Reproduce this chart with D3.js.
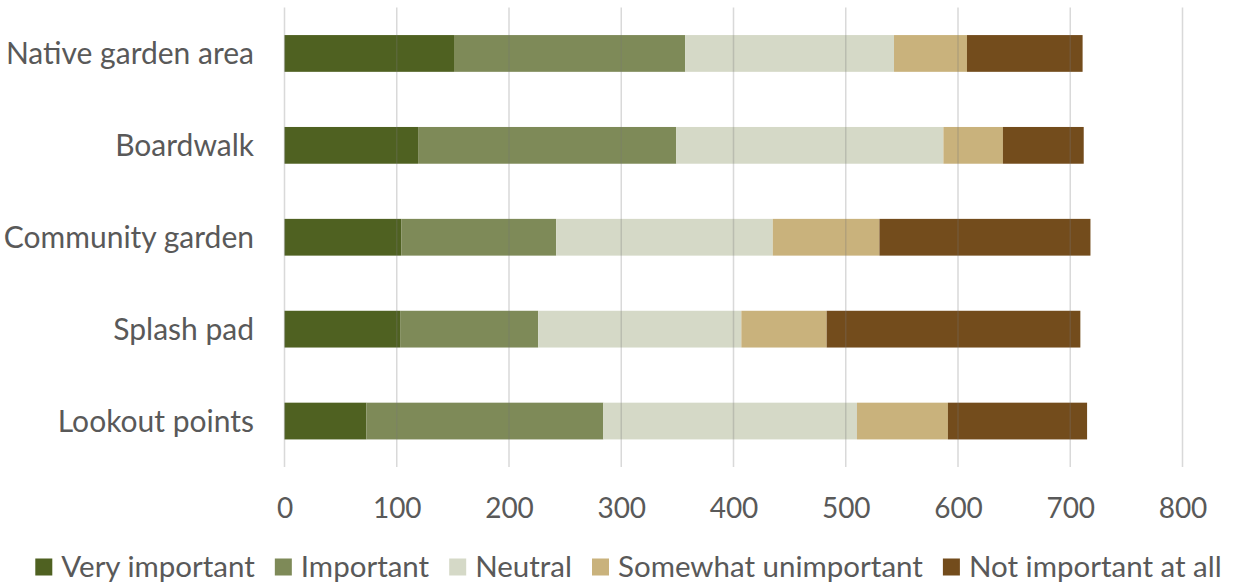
<!DOCTYPE html>
<html><head><meta charset="utf-8">
<script src="https://cdn.jsdelivr.net/npm/d3@7"></script>
<style>body{margin:0;background:#fff}svg{display:block}</style>
</head><body>
<svg id="c" width="1237" height="586"></svg>
<script>
const categories = ["Native garden area","Boardwalk","Community garden","Splash pad","Lookout points"];
const seriesNames = ["Very important","Important","Neutral","Somewhat unimportant","Not important at all"];
const veryImportant = [151,119,104,103,73];
const important = [206,230,138,123,211];
const neutral = [186,238,193,181,226];
const somewhatUnimportant = [65,53,95,76,81];
const notImportant = [103,72,188,226,124];
const tickValues = [0,100,200,300,400,500,600,700,800];
const colors = ["#4F6121","#7E8A58","#D5D9C7","#C9B27C","#734C1C"];

const series = [veryImportant, important, neutral, somewhatUnimportant, notImportant];
const rows = categories.map((c,i)=>{const o={cat:c}; seriesNames.forEach((s,j)=>o[s]=series[j][i]); return o;});
const stacked = d3.stack().keys(seriesNames)(rows);

const svg = d3.select("#c");
const font = "Lato, 'Open Sans', sans-serif";
const textColor = "#595959";
const x = d3.scaleLinear().domain([0,800]).range([284.5,1182.5]);
const y = d3.scaleBand().domain(categories).range([7.5,467]).paddingInner(0.6).paddingOuter(0.3);

// bars
svg.append("g").selectAll("g").data(stacked).join("g")
  .attr("fill",(d,i)=>colors[i])
  .selectAll("rect").data(d=>d).join("rect")
  .attr("x",d=>x(d[0])).attr("width",d=>x(d[1])-x(d[0]))
  .attr("y",d=>y(d.data.cat)).attr("height",y.bandwidth());

// gridlines on top (semi-transparent)
svg.append("g").selectAll("line").data(tickValues).join("line")
  .attr("x1",d=>x(d)).attr("x2",d=>x(d)).attr("y1",7.5).attr("y2",467)
  .attr("stroke","rgb(120,120,120)").attr("stroke-opacity",0.28).attr("stroke-width",1.5);

// x axis labels
const xAxis = d3.axisBottom(x).tickValues(tickValues).tickSize(0).tickPadding(0);
const gx = svg.append("g").attr("transform","translate(0,497)").call(xAxis);
gx.select(".domain").remove();
gx.selectAll("text").attr("font-family",font).attr("font-size",28).attr("fill",textColor).attr("dy","0.35em").attr("y",11);

// y axis labels
const yAxis = d3.axisLeft(y).tickSize(0).tickPadding(0);
const gy = svg.append("g").attr("transform","translate(254,0)").call(yAxis);
gy.select(".domain").remove();
gy.selectAll("text").attr("font-family",font).attr("font-size",30).attr("fill",textColor).attr("dy","0.35em");

// legend
const lg = svg.append("g").attr("transform","translate(0,567)");
const items = lg.selectAll("g").data(seriesNames).join("g");
items.append("rect").attr("width",17).attr("height",17).attr("y",-8.5).attr("fill",(d,i)=>colors[i]);
items.append("text").attr("x",26).attr("dy","0.35em").attr("font-family",font).attr("font-size",29.5).attr("fill",textColor).text(d=>d);
const widths=[];
items.each(function(){const w=26+this.querySelector("text").getComputedTextLength(); widths.push(w);});
const gap=20; const total=d3.sum(widths)+gap*(widths.length-1);
let cx = 628.5 - total/2;
items.attr("transform",(d,i)=>{const t=`translate(${cx},0)`; cx+=widths[i]+gap; return t;});
</script>
</body></html>
